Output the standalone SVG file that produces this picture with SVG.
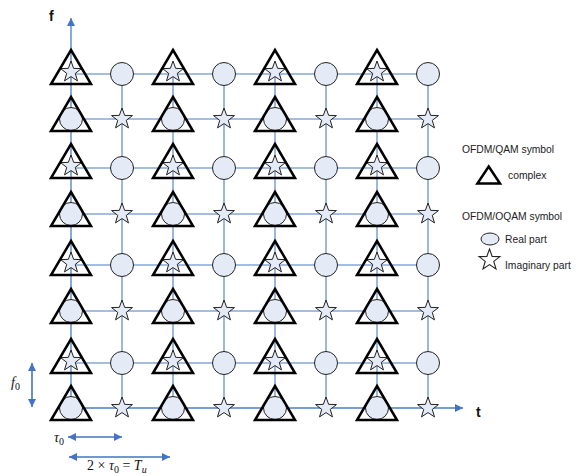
<svg xmlns="http://www.w3.org/2000/svg" xmlns:xlink="http://www.w3.org/1999/xlink" width="579" height="476" viewBox="0 0 579 476">
<style>
.grid{stroke:#4a7ec8;stroke-width:1.1;fill:none}
.axis{stroke:#4a7ec8;stroke-width:1.3;fill:none}
.dim{stroke:#4472c4;stroke-width:1.6;fill:none}
.sym{fill:#e4ebf6;stroke:#222;stroke-width:1}
.tri{fill:none;stroke:#000;stroke-width:2.5;stroke-linejoin:miter}
.lbl{font-family:"Liberation Sans",Arial,sans-serif;font-size:10.3px;fill:#222}
.ax{font-family:"Liberation Sans",Arial,sans-serif;font-size:14px;font-weight:bold;fill:#111}
.math{font-family:"Liberation Serif","Times New Roman",serif;font-size:14px;fill:#111}
</style>
<defs>
<path id="star" class="sym" d="M0,-11 L2.65,-3.64 L10.46,-3.4 L4.28,1.39 L6.47,8.9 L0,4.6 L-6.47,8.9 L-4.28,1.39 L-10.46,-3.4 L-2.65,-3.64 Z"/>
<circle id="circ" class="sym" cx="0" cy="0" r="11.5"/>
<path id="triS" class="tri" d="M0,-24 L20,10 L-20,10 Z"/>
<path id="triC" class="tri" d="M0,-22 L20,12 L-20,12 Z"/>
<marker id="ah" viewBox="0 0 10 10" refX="10" refY="5" markerWidth="9" markerHeight="8" markerUnits="userSpaceOnUse" orient="auto-start-reverse">
<path d="M0,0 L10,5 L0,10 Z" fill="#4472c4"/>
</marker>
</defs>
<rect width="579" height="476" fill="#fff"/>
<g id="connectors">
<line class="grid" x1="71" y1="74" x2="428" y2="74"/>
<line class="grid" x1="71" y1="119" x2="428" y2="119"/>
<line class="grid" x1="71" y1="168" x2="428" y2="168"/>
<line class="grid" x1="71" y1="214" x2="428" y2="214"/>
<line class="grid" x1="71" y1="265" x2="428" y2="265"/>
<line class="grid" x1="71" y1="311" x2="428" y2="311"/>
<line class="grid" x1="71" y1="363" x2="428" y2="363"/>
<line class="grid" x1="122" y1="74" x2="122" y2="408"/>
<line class="grid" x1="173" y1="74" x2="173" y2="408"/>
<line class="grid" x1="224" y1="74" x2="224" y2="408"/>
<line class="grid" x1="275" y1="74" x2="275" y2="408"/>
<line class="grid" x1="326" y1="74" x2="326" y2="408"/>
<line class="grid" x1="377" y1="74" x2="377" y2="408"/>
<line class="grid" x1="428" y1="74" x2="428" y2="408"/>
<line class="axis" x1="71" y1="408" x2="71" y2="18" marker-end="url(#ah)"/>
<line class="axis" x1="71" y1="408" x2="463" y2="408" marker-end="url(#ah)"/>
<line class="dim" x1="32" y1="363" x2="32" y2="407" marker-start="url(#ah)" marker-end="url(#ah)"/>
<line class="dim" x1="68" y1="437" x2="122" y2="437" marker-start="url(#ah)" marker-end="url(#ah)"/>
<line class="dim" x1="69" y1="457" x2="170" y2="457" marker-start="url(#ah)" marker-end="url(#ah)"/>
</g>
<g id="n0_0" transform="translate(71,74)"><use href="#star" y="-2"/><use href="#triS"/></g>
<g id="n0_1" transform="translate(122,74)"><use href="#circ"/></g>
<g id="n0_2" transform="translate(173,74)"><use href="#star" y="-2"/><use href="#triS"/></g>
<g id="n0_3" transform="translate(224,74)"><use href="#circ"/></g>
<g id="n0_4" transform="translate(275,74)"><use href="#star" y="-2"/><use href="#triS"/></g>
<g id="n0_5" transform="translate(326,74)"><use href="#circ"/></g>
<g id="n0_6" transform="translate(377,74)"><use href="#star" y="-2"/><use href="#triS"/></g>
<g id="n0_7" transform="translate(428,74)"><use href="#circ"/></g>
<g id="n1_0" transform="translate(71,119)"><use href="#circ"/><use href="#triC"/></g>
<g id="n1_1" transform="translate(122,119)"><use href="#star"/></g>
<g id="n1_2" transform="translate(173,119)"><use href="#circ"/><use href="#triC"/></g>
<g id="n1_3" transform="translate(224,119)"><use href="#star"/></g>
<g id="n1_4" transform="translate(275,119)"><use href="#circ"/><use href="#triC"/></g>
<g id="n1_5" transform="translate(326,119)"><use href="#star"/></g>
<g id="n1_6" transform="translate(377,119)"><use href="#circ"/><use href="#triC"/></g>
<g id="n1_7" transform="translate(428,119)"><use href="#star"/></g>
<g id="n2_0" transform="translate(71,168)"><use href="#star" y="-2"/><use href="#triS"/></g>
<g id="n2_1" transform="translate(122,168)"><use href="#circ"/></g>
<g id="n2_2" transform="translate(173,168)"><use href="#star" y="-2"/><use href="#triS"/></g>
<g id="n2_3" transform="translate(224,168)"><use href="#circ"/></g>
<g id="n2_4" transform="translate(275,168)"><use href="#star" y="-2"/><use href="#triS"/></g>
<g id="n2_5" transform="translate(326,168)"><use href="#circ"/></g>
<g id="n2_6" transform="translate(377,168)"><use href="#star" y="-2"/><use href="#triS"/></g>
<g id="n2_7" transform="translate(428,168)"><use href="#circ"/></g>
<g id="n3_0" transform="translate(71,214)"><use href="#circ"/><use href="#triC"/></g>
<g id="n3_1" transform="translate(122,214)"><use href="#star"/></g>
<g id="n3_2" transform="translate(173,214)"><use href="#circ"/><use href="#triC"/></g>
<g id="n3_3" transform="translate(224,214)"><use href="#star"/></g>
<g id="n3_4" transform="translate(275,214)"><use href="#circ"/><use href="#triC"/></g>
<g id="n3_5" transform="translate(326,214)"><use href="#star"/></g>
<g id="n3_6" transform="translate(377,214)"><use href="#circ"/><use href="#triC"/></g>
<g id="n3_7" transform="translate(428,214)"><use href="#star"/></g>
<g id="n4_0" transform="translate(71,265)"><use href="#star" y="-2"/><use href="#triS"/></g>
<g id="n4_1" transform="translate(122,265)"><use href="#circ"/></g>
<g id="n4_2" transform="translate(173,265)"><use href="#star" y="-2"/><use href="#triS"/></g>
<g id="n4_3" transform="translate(224,265)"><use href="#circ"/></g>
<g id="n4_4" transform="translate(275,265)"><use href="#star" y="-2"/><use href="#triS"/></g>
<g id="n4_5" transform="translate(326,265)"><use href="#circ"/></g>
<g id="n4_6" transform="translate(377,265)"><use href="#star" y="-2"/><use href="#triS"/></g>
<g id="n4_7" transform="translate(428,265)"><use href="#circ"/></g>
<g id="n5_0" transform="translate(71,311)"><use href="#circ"/><use href="#triC"/></g>
<g id="n5_1" transform="translate(122,311)"><use href="#star"/></g>
<g id="n5_2" transform="translate(173,311)"><use href="#circ"/><use href="#triC"/></g>
<g id="n5_3" transform="translate(224,311)"><use href="#star"/></g>
<g id="n5_4" transform="translate(275,311)"><use href="#circ"/><use href="#triC"/></g>
<g id="n5_5" transform="translate(326,311)"><use href="#star"/></g>
<g id="n5_6" transform="translate(377,311)"><use href="#circ"/><use href="#triC"/></g>
<g id="n5_7" transform="translate(428,311)"><use href="#star"/></g>
<g id="n6_0" transform="translate(71,363)"><use href="#star" y="-2"/><use href="#triS"/></g>
<g id="n6_1" transform="translate(122,363)"><use href="#circ"/></g>
<g id="n6_2" transform="translate(173,363)"><use href="#star" y="-2"/><use href="#triS"/></g>
<g id="n6_3" transform="translate(224,363)"><use href="#circ"/></g>
<g id="n6_4" transform="translate(275,363)"><use href="#star" y="-2"/><use href="#triS"/></g>
<g id="n6_5" transform="translate(326,363)"><use href="#circ"/></g>
<g id="n6_6" transform="translate(377,363)"><use href="#star" y="-2"/><use href="#triS"/></g>
<g id="n6_7" transform="translate(428,363)"><use href="#circ"/></g>
<g id="n7_0" transform="translate(71,408)"><use href="#circ"/><use href="#triC"/></g>
<g id="n7_1" transform="translate(122,408)"><use href="#star"/></g>
<g id="n7_2" transform="translate(173,408)"><use href="#circ"/><use href="#triC"/></g>
<g id="n7_3" transform="translate(224,408)"><use href="#star"/></g>
<g id="n7_4" transform="translate(275,408)"><use href="#circ"/><use href="#triC"/></g>
<g id="n7_5" transform="translate(326,408)"><use href="#star"/></g>
<g id="n7_6" transform="translate(377,408)"><use href="#circ"/><use href="#triC"/></g>
<g id="n7_7" transform="translate(428,408)"><use href="#star"/></g>
<g id="axis-labels">
<text class="ax" x="49" y="21">f</text>
<text class="ax" x="476" y="417">t</text>
<text class="math" x="11" y="387" font-style="italic">f<tspan font-size="10" font-style="normal" dy="3">0</tspan></text>
<text class="math" x="54" y="442" font-style="italic">τ<tspan font-size="10" font-style="normal" dy="3">0</tspan></text>
<text class="math" x="87" y="470">2 × <tspan font-style="italic">τ</tspan><tspan font-size="10" dy="3">0</tspan><tspan dy="-3"> = </tspan><tspan font-style="italic">T</tspan><tspan font-size="10" font-style="italic" dy="3">u</tspan></text>
</g>
<g id="legend">
<text class="lbl" x="462" y="153">OFDM/QAM symbol</text>
<path class="tri" d="M488.7,166.5 L500,183.5 L477.4,183.5 Z"/>
<text class="lbl" x="508" y="179">complex</text>
<text class="lbl" x="462" y="220">OFDM/OQAM symbol</text>
<ellipse class="sym" cx="490" cy="239" rx="9" ry="6"/>
<text class="lbl" x="505" y="243">Real part</text>
<path d="M0,-11 L2.65,-3.64 L10.46,-3.4 L4.28,1.39 L6.47,8.9 L0,4.6 L-6.47,8.9 L-4.28,1.39 L-10.46,-3.4 L-2.65,-3.64 Z" transform="translate(489.5,260)" fill="#fff" stroke="#222" stroke-width="1.1"/>
<text class="lbl" x="505" y="269">Imaginary part</text>
</g>
</svg>
